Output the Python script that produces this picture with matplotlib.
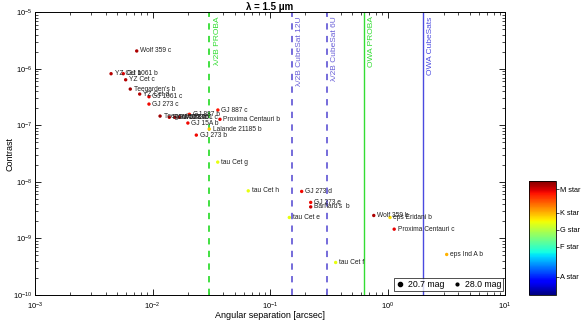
import matplotlib
matplotlib.use("Agg")
import matplotlib.pyplot as plt
import numpy as np
from matplotlib.lines import Line2D

plt.rcParams['font.family'] = ['Liberation Sans', 'DejaVu Sans']

# ---------------- data ----------------
names = ["Wolf 359 c", "YZ Cet b", "GJ 1061 b", "YZ Cet c", "Teegarden's b", "YZ Cet d",
         "GJ 1061 c", "GJ 273 c", "Teegarden's c", "Ross 128 b", "GJ 1002 b", "Wolf 1061 c",
         "GJ 887 b", "GJ 15A b", "GJ 887 c", "Proxima Centauri b", "Lalande 21185 b",
         "GJ 273 b", "tau Cet g", "tau Cet h", "GJ 273 d", "GJ 273 e", "Barnard's  b",
         "tau Cet e", "Wolf 359 b", "eps Eridani b", "Proxima Centauri c", "tau Cet f",
         "eps Ind A b"]
separation = [0.00734, 0.00444, 0.00564, 0.00591, 0.00647, 0.00778,
              0.00933, 0.00933, 0.0116, 0.0139, 0.0155, 0.0169,
              0.0206, 0.0200, 0.0360, 0.0375, 0.0304,
              0.0236, 0.0359, 0.0653, 0.186, 0.222, 0.222,
              0.146, 0.764, 1.05, 1.14, 0.362,
              3.19]
contrast = [2.07e-6, 8.2e-7, 8.2e-7, 6.41e-7, 4.39e-7, 3.58e-7,
            3.21e-7, 2.38e-7, 1.46e-7, 1.39e-7, 1.39e-7, 1.39e-7,
            1.57e-7, 1.10e-7, 1.87e-7, 1.28e-7, 8.6e-8,
            6.73e-8, 2.24e-8, 6.95e-9, 6.79e-9, 4.34e-9, 3.62e-9,
            2.35e-9, 2.55e-9, 2.35e-9, 1.46e-9, 3.76e-10,
            5.21e-10]
star_type = [0.96, 0.95, 0.92, 0.95, 0.97, 0.95,
             0.92, 0.90, 0.97, 0.93, 0.95, 0.92,
             0.89, 0.90, 0.89, 0.91, 0.70,
             0.90, 0.63, 0.63, 0.90, 0.90, 0.93,
             0.63, 0.96, 0.67, 0.91, 0.63,
             0.72]

line_names = ["\u03bb/2B PROBA", "\u03bb/2B CubeSat 12U", "\u03bb/2B CubeSat 6U",
              "OWA PROBA", "OWA CubeSats"]
line_pos = [0.0305, 0.153, 0.304, 0.635, 1.99]
line_colors = ["#33dd33", "#6a60d8", "#6a60d8", "#33dd33", "#4a4ae0"]
line_styles = ["--", "--", "--", "-", "-"]

cbar_labels = ["A star", "F star", "G star", "K star", "M star"]
cbar_ticks = [0.16, 0.42, 0.57, 0.72, 0.927]

legend_mags = ["20.7 mag", "28.0 mag"]

# ---------------- figure ----------------
W, H = 583, 323
fig = plt.figure(figsize=(W / 100, H / 100), dpi=100)
ax = fig.add_axes([35 / W, (H - 295) / H, 470 / W, (295 - 12.3) / H])

cmap = plt.get_cmap('jet')
ax.scatter(separation, contrast, c=star_type, cmap=cmap, vmin=0, vmax=1,
           s=6, edgecolors='none', zorder=3)
for n, x, y in zip(names, separation, contrast):
    ax.annotate(n, (x, y), xytext=(2.5, 0), textcoords='offset points',
                fontsize=4.8, va='center', ha='left', color='#202020', zorder=4)

for n, xp, col, ls in zip(line_names, line_pos, line_colors, line_styles):
    if ls == '--':
        ax.axvline(xp, color=col, lw=1.3, ls=(0, (3.5, 3.5)), zorder=2)
    else:
        ax.axvline(xp, color=col, lw=1.0, ls='-', zorder=2)
    ax.annotate(n, (xp, 1e-5), xytext=(3, -3), textcoords='offset points',
                rotation=90, fontsize=6, color=col, va='top', ha='left')

ax.set_xscale('log')
ax.set_yscale('log')
ax.set_xlim(1e-3, 1e1)
ax.set_ylim(1e-10, 1e-5)
ax.tick_params(which='both', direction='in', top=True, right=True, labelsize=5.5)
ax.tick_params(which='major', length=4, width=0.6)
ax.tick_params(which='minor', length=2, width=0.5)
ax.xaxis.set_major_locator(matplotlib.ticker.LogLocator(base=10, numticks=10))
ax.yaxis.set_major_locator(matplotlib.ticker.LogLocator(base=10, numticks=10))
for sp in ax.spines.values():
    sp.set_linewidth(0.7)
ax.tick_params(axis='x', pad=4)
ax.tick_params(axis='y', pad=2)
ax.set_xlabel("Angular separation [arcsec]", fontsize=6.5)
ax.set_ylabel("Contrast", fontsize=6.5)
ax.xaxis.set_label_coords(0.5, -0.058)
ax.yaxis.set_label_coords(-0.043, 0.5)
ax.set_title("\u03bb = 1.5 \u03bcm", fontsize=7, fontweight='bold', pad=2)

h1 = Line2D([], [], marker='o', color='k', ls='none', markersize=3.0)
h2 = Line2D([], [], marker='o', color='k', ls='none', markersize=2.0)
leg = ax.legend([h1, h2], legend_mags, ncol=2, loc='lower right',
                bbox_to_anchor=(0.995, 0.015), fontsize=6.3, frameon=True,
                fancybox=False, handlelength=1.0, handletextpad=0.4,
                columnspacing=0.9, borderpad=0.2, borderaxespad=0.0)
leg.get_frame().set_edgecolor('k')
leg.get_frame().set_linewidth(0.6)

# colorbar
cax = fig.add_axes([529 / W, (H - 295) / H, 27 / W, 114.3 / H])
sm = matplotlib.cm.ScalarMappable(cmap=cmap, norm=matplotlib.colors.Normalize(0, 1))
cb = fig.colorbar(sm, cax=cax)
cb.set_ticks(cbar_ticks)
cb.set_ticklabels(cbar_labels)
cb.ax.tick_params(labelsize=5.3, length=2, width=0.5, pad=1)
cb.outline.set_linewidth(0.6)

fig.savefig("out.png", dpi=100)
